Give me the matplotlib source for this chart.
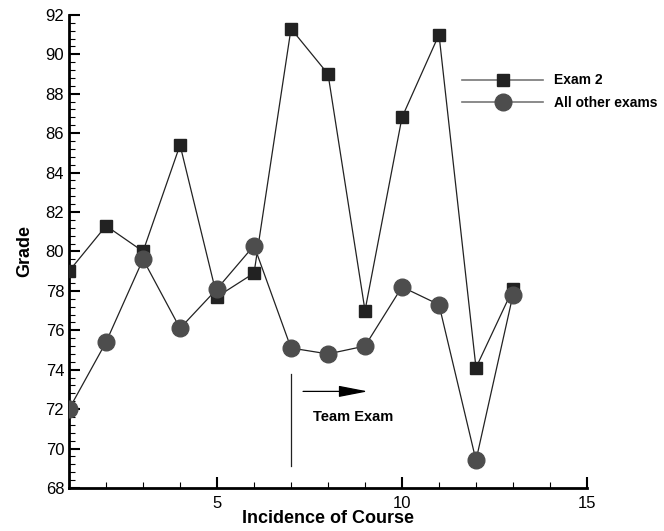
import numpy as np
import matplotlib.pyplot as plt
from matplotlib.ticker import MultipleLocator

plt.rcParams['font.family'] = ['Liberation Sans', 'DejaVu Sans']

course = [1, 2, 3, 4, 5, 6, 7, 8, 9, 10, 11, 12, 13]
exam2 = [79.0, 81.3, 80.0, 85.4, 77.7, 78.9, 91.3, 89.0, 77.0, 86.8, 91.0, 74.1, 78.1]
other_exams = [72.0, 75.4, 79.6, 76.1, 78.1, 80.3, 75.1, 74.8, 75.2, 78.2, 77.3, 69.4, 77.8]

fig = plt.figure(figsize=(6.64, 5.31), dpi=100)
ax = fig.add_axes([0.104, 0.081, 0.78, 0.891])

ax.plot(course, exam2, color='#222222', lw=0.9, marker='s', ms=9,
        mfc='#222222', mec='#222222', zorder=3)
ax.plot(course, other_exams, color='#222222', lw=0.9, marker='o', ms=12,
        mfc='#4d4d4d', mec='#4d4d4d', zorder=3)

# team exam marker
ax.plot([7, 7], [69.1, 73.8], color='#222222', lw=0.9)
ax.annotate('', xy=(9.15, 72.9), xytext=(7.25, 72.9),
            arrowprops=dict(arrowstyle='-|>,head_length=1.8,head_width=0.35',
                            color='black', lw=0.9))
ax.text(7.6, 71.6, 'Team Exam', fontsize=10.5, fontweight='bold', va='center')

# legend drawn by hand
h1, = ax.plot([], [], color='#777777', lw=1.2, marker='s', ms=9,
              mfc='#222222', mec='#222222')
h2, = ax.plot([], [], color='#777777', lw=1.2, marker='o', ms=12,
              mfc='#4d4d4d', mec='#4d4d4d')
leg = ax.legend([h1, h2], ['Exam 2', 'All other exams'], loc='upper left',
                bbox_to_anchor=(0.748, 0.888), frameon=False, handlelength=5.85,
                handletextpad=0.8, labelspacing=0.6, borderaxespad=0,
                prop={'weight': 'bold', 'size': 10})

ax.set_xlim(1, 15)
ax.set_ylim(68, 92)
ax.xaxis.set_major_locator(MultipleLocator(5))
ax.xaxis.set_minor_locator(MultipleLocator(1))
ax.yaxis.set_major_locator(MultipleLocator(2))
ax.yaxis.set_minor_locator(MultipleLocator(0.4))
ax.set_xticks([5, 10, 15])
ax.tick_params(which='major', direction='in', length=8, width=1.5, labelsize=12)
ax.tick_params(which='minor', direction='in', length=4, width=0.8)
ax.tick_params(axis='x', pad=6)
for s in ['top', 'right']:
    ax.spines[s].set_visible(False)
for s in ['left', 'bottom']:
    ax.spines[s].set_linewidth(2)

ax.set_xlabel('Incidence of Course', fontsize=13, fontweight='bold', labelpad=-1)
ax.set_ylabel('Grade', fontsize=13, fontweight='bold', labelpad=9)

plt.savefig('out.png', dpi=100)
